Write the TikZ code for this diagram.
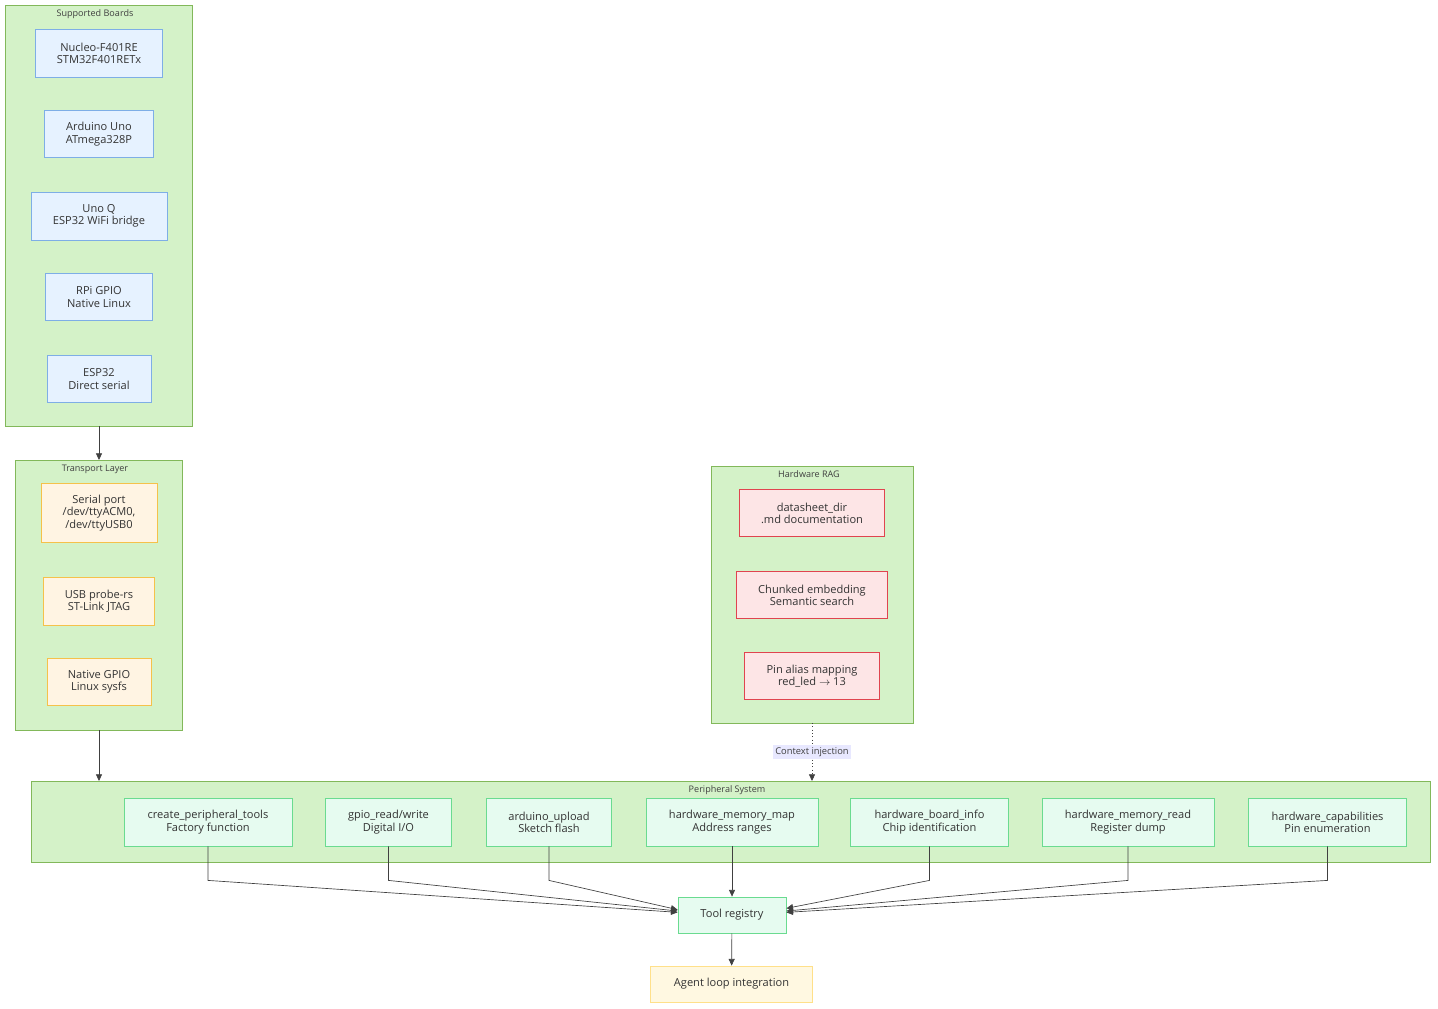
\documentclass[tikz,border=0pt]{standalone}
\usepackage{fontspec}
\setmainfont{Open Sans}
\usetikzlibrary{arrows.meta}
\definecolor{grpfill}{HTML}{D4F2C8}
\definecolor{grpline}{HTML}{82B85A}
\definecolor{brdfill}{HTML}{E6F2FF}
\definecolor{brdline}{HTML}{7EAEE6}
\definecolor{trnfill}{HTML}{FFF4E3}
\definecolor{trnline}{HTML}{F5C14A}
\definecolor{ragfill}{HTML}{FDE5E6}
\definecolor{ragline}{HTML}{E0444F}
\definecolor{perfill}{HTML}{E6FBF0}
\definecolor{perline}{HTML}{6ADB90}
\definecolor{agtfill}{HTML}{FFF8E1}
\definecolor{agtline}{HTML}{FFE08A}
\definecolor{lblfill}{HTML}{E8E8FF}
\tikzset{
  grp/.style={draw=grpline,fill=grpfill,line width=0.6pt},
  grptitle/.style={font=\fontsize{6.8}{8}\selectfont,text=black!75},
  box/.style={draw,line width=0.6pt,align=center,inner sep=0pt,
    font=\fontsize{8.3}{9.2}\selectfont,text=black!80},
  brd/.style={box,draw=brdline,fill=brdfill},
  trn/.style={box,draw=trnline,fill=trnfill},
  rag/.style={box,draw=ragline,fill=ragfill},
  per/.style={box,draw=perline,fill=perfill},
  agt/.style={box,draw=agtline,fill=agtfill},
  link/.style={draw=black!75,line width=0.5pt,-{Triangle[length=5pt,width=4.5pt]}}
}
\newcommand{\bx}[6]{\node[#1,minimum width=#4,minimum height=#5] (#2) at (#3) {#6};}
\begin{document}
\begin{tikzpicture}[x=0.75pt,y=-0.75pt]
\useasboundingbox (0,0) rectangle (1438,1008);
% groups
\draw[grp] (5,5) rectangle (192,426);
\node[grptitle] at (95,14) {Supported Boards};
\draw[grp] (15,460) rectangle (182,730);
\node[grptitle] at (95,469) {Transport Layer};
\draw[grp] (711,466) rectangle (913,723);
\node[grptitle] at (809,474) {Hardware RAG};
\draw[grp] (31,781) rectangle (1430,862);
\node[grptitle] at (727,790) {Peripheral System};
\coordinate (gbrd) at (99,426);
\coordinate (gtrnin) at (99,460);
\coordinate (gtrn) at (99,730);
\coordinate (gperin) at (99,781);
\coordinate (grag) at (812,723);
\coordinate (gperrag) at (812,781);
% boards
\bx{brd}{nucleo}{99,53}{95pt}{36pt}{Nucleo-F401RE\\STM32F401RETx}
\bx{brd}{uno}{99,134}{82pt}{35pt}{Arduino Uno\\ATmega328P}
\bx{brd}{unoq}{99,216}{102pt}{36pt}{Uno Q\\ESP32 WiFi bridge}
\bx{brd}{rpi}{99,297}{80pt}{35pt}{RPi GPIO\\Native Linux}
\bx{brd}{esp}{99,379}{78pt}{35pt}{ESP32\\Direct serial}
% transport
\bx{trn}{serial}{99,513}{87pt}{44pt}{Serial port\\/dev/ttyACM0,\\/dev/ttyUSB0}
\bx{trn}{usb}{99,601}{83pt}{36pt}{USB probe-rs\\ST-Link JTAG}
\bx{trn}{ngpio}{99,682}{78pt}{35pt}{Native GPIO\\Linux sysfs}
% rag
\bx{rag}{dsheet}{812,513}{109pt}{35pt}{datasheet\_dir\\.md documentation}
\bx{rag}{chunk}{812,595}{113pt}{35pt}{Chunked embedding\\Semantic search}
\bx{rag}{alias}{812,676}{101pt}{35pt}{Pin alias mapping\\red\_led $\rightarrow$ 13}
% peripheral
\bx{per}{create}{208,822}{126pt}{36pt}{create\_peripheral\_tools\\Factory function}
\bx{per}{gpio}{388.5,822}{95pt}{36pt}{gpio\_read/write\\Digital I/O}
\bx{per}{upload}{549,822}{94pt}{36pt}{arduino\_upload\\Sketch flash}
\bx{per}{memmap}{732,822}{129pt}{36pt}{hardware\_memory\_map\\Address ranges}
\bx{per}{board}{929.5,822}{118pt}{36pt}{hardware\_board\_info\\Chip identification}
\bx{per}{memread}{1128,822}{129pt}{36pt}{hardware\_memory\_read\\Register dump}
\bx{per}{caps}{1327.5,822}{119pt}{36pt}{hardware\_capabilities\\Pin enumeration}
\bx{per}{reg}{732,915}{81pt}{27pt}{Tool registry}
\bx{agt}{agent}{731.5,984}{121pt}{27pt}{Agent loop integration}
% connectors
\draw[link] (gbrd) -- (gtrnin);
\draw[link] (gtrn) -- (gperin);
\draw[link,dotted] (grag) -- node[fill=lblfill,inner sep=1.5pt,font=\fontsize{7}{8}\selectfont,text=black!75]{Context injection} (gperrag);
\foreach \n/\dy in {create/2,gpio/3,upload/4}
  \draw[link] (\n.south) -- ++(0,34) -- ([yshift=\dy pt]reg.west);
\foreach \n/\dy in {board/5,memread/3,caps/2}
  \draw[link] (\n.south) -- ++(0,34) -- ([yshift=\dy pt]reg.east);
\draw[link] (memmap) -- (reg);
\draw[link] (reg) -- (agent);
\end{tikzpicture}
\end{document}
